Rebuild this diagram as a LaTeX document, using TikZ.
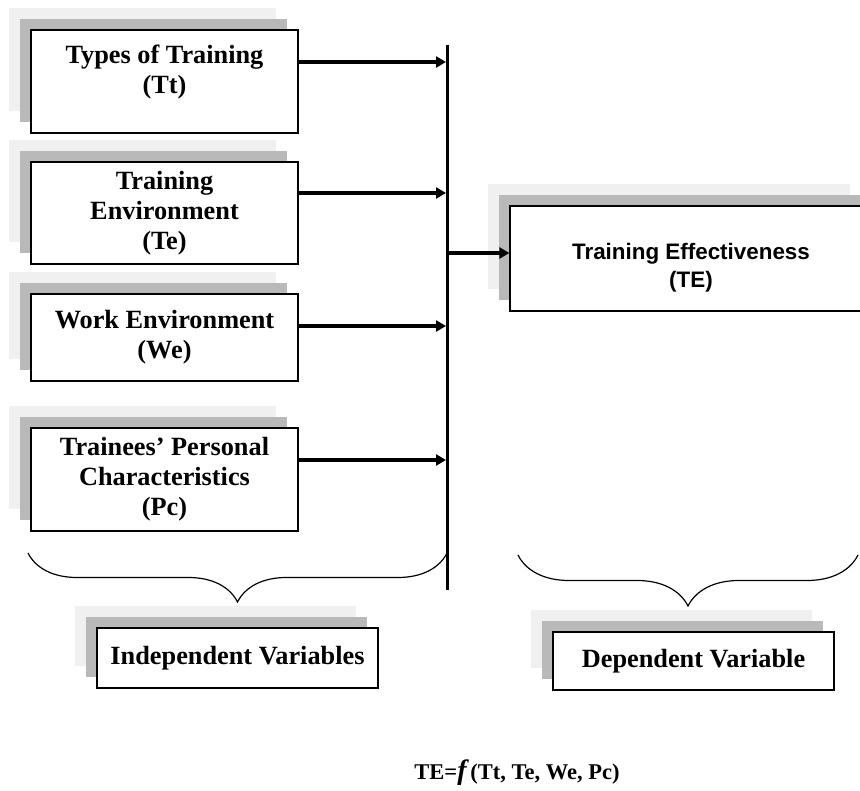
\documentclass[tikz,border=0pt]{standalone}
\usepackage{fontspec}
\setmainfont{Liberation Serif}
\newfontfamily\arialfont{Liberation Sans}
\usetikzlibrary{shadows, arrows.meta, decorations.pathreplacing}

\definecolor{shadelight}{RGB}{240,240,240}
\definecolor{shadedark}{RGB}{185,185,185}

\tikzset{
    varbox/.style={
        draw, line width=1.3pt, fill=white, inner sep=0pt, align=center,
        font=\bfseries\fontsize{26.3}{30}\selectfont, minimum width=267pt,
        general shadow={shadow xshift=-22pt, shadow yshift=22pt, fill=shadelight},
        general shadow={shadow xshift=-11pt, shadow yshift=11pt, fill=shadedark}
    },
    feed/.style={line width=3.5pt, -{Triangle[length=10pt, width=11pt]}, shorten >=1.5pt},
    curly/.style={line width=1.2pt, decorate, decoration={brace, amplitude=#1}}
}

\begin{document}
\begin{tikzpicture}[x=1pt, y=1pt]
            \useasboundingbox (0, 0) rectangle (860, -791);

            % independent variables
            \node[varbox, minimum height=103pt] (tt) at (164.5, -81.5) {Types of Training\\(Tt)\\[-6pt]};
            \node[varbox, minimum height=102pt] (te) at (164.5, -213) {Training\\Environment\\(Te)};
            \node[varbox, minimum height=87pt] (we) at (164.5, -337.5) {Work Environment\\(We)};
            \node[varbox, minimum height=103pt] (pc) at (164.5, -479.5) {Trainees’ Personal\\Characteristics\\(Pc)};

            % dependent variable
            \node[varbox, font=\arialfont\bfseries\fontsize{22.4}{28}\selectfont,
                minimum width=362pt, minimum height=105pt] (teff) at (691, -258.5) {\\[6pt]Training Effectiveness\\(TE)};

            % collecting line
            \coordinate (bustop) at (447.5, -45);
            \coordinate (busbot) at (447.5, -590);
            \draw[line width=3.5pt] (bustop) -- (busbot);

            \foreach \b/\dy in {tt/19.5, te/20, we/11.5, pc/19.5} {
                \draw[feed] ([yshift=\dy pt]\b.east) -- ([yshift=\dy pt]\b.east -| bustop);
            }
            \draw[feed, shorten >=0pt] ([yshift=5.5pt]teff.west -| bustop) -- ([yshift=5.5pt]teff.west);

            % braces
            \coordinate (lbraceL) at (28, -553);
            \coordinate (lbraceR) at (447, -553);
            \coordinate (rbraceL) at (518, -555);
            \coordinate (rbraceR) at (858, -555);
            \draw[curly=49pt] (lbraceR) -- (lbraceL);
            \draw[curly=51pt] (rbraceR) -- (rbraceL);

            \node[varbox, line width=1.1pt, minimum width=281pt, minimum height=60pt] (indep) at (237.5, -658) {Independent Variables};
            \node[varbox, line width=1.1pt, minimum width=281pt, minimum height=58pt] (dep) at (693.5, -661) {Dependent Variable};

            % model
            \node[font=\bfseries\fontsize{22.5}{25}\selectfont] (model) at (517, -773)
                {TE={\fontsize{28}{28}\selectfont\itshape f}\,(Tt, Te, We, Pc)};
        \end{tikzpicture}
\end{document}
